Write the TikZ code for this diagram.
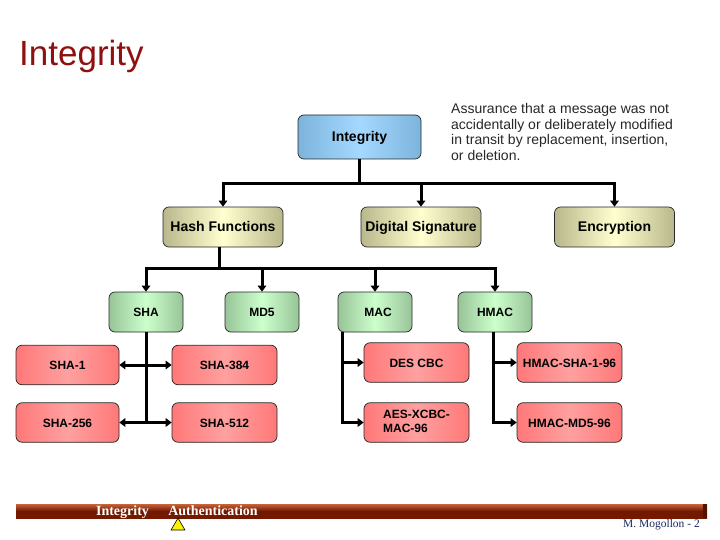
\documentclass[tikz,border=0pt]{standalone}
\usepackage{fontspec}
\setmainfont{Liberation Sans}
\newfontfamily\serifface{Liberation Serif}
\usetikzlibrary{positioning, arrows.meta, shapes.geometric}
\definecolor{titlered}{HTML}{8E1010}
\definecolor{footblue}{HTML}{1A2A5E}
\definecolor{blueedge}{RGB}{125,180,220}
\definecolor{bluemid}{RGB}{165,216,255}
\definecolor{tanedge}{RGB}{184,184,140}
\definecolor{tanmid}{RGB}{255,255,208}
\definecolor{greenedge}{RGB}{152,196,152}
\definecolor{greenmid}{RGB}{204,255,204}
\definecolor{rededge}{RGB}{255,120,120}
\definecolor{redmid}{RGB}{255,160,160}
\definecolor{barlight}{RGB}{200,100,60}
\definecolor{bardark}{RGB}{115,25,0}
\tikzset{
	basebox/.style={draw=black!85, line width=0.7pt, rounded corners=6pt, inner sep=0pt, anchor=center, text=black, execute at begin node={\rule[-3pt]{0pt}{15pt}}},
	bluebox/.style={basebox, left color=blueedge, right color=blueedge, middle color=bluemid, minimum width=123pt, minimum height=44pt, font=\fontsize{14}{16}\selectfont\bfseries},
	tanbox/.style={basebox, left color=tanedge, right color=tanedge, middle color=tanmid, minimum width=120pt, minimum height=40pt, font=\fontsize{14}{16}\selectfont\bfseries},
	greenbox/.style={basebox, left color=greenedge, right color=greenedge, middle color=greenmid, minimum width=74pt, minimum height=40pt, font=\fontsize{12}{14}\selectfont\bfseries},
	redbox/.style={basebox, left color=rededge, right color=rededge, middle color=redmid, minimum width=105pt, minimum height=39.5pt, font=\fontsize{12}{14.5}\selectfont\bfseries},
	wire/.style={line width=3pt, draw=black},
	arrowwire/.style={wire, -{Triangle[length=6pt,width=8.5pt]}},
	bothwire/.style={wire, {Triangle[length=6pt,width=8.5pt]}-{Triangle[length=6pt,width=8.5pt]}},
}
\begin{document}
\begin{tikzpicture}[x=1pt, y=-1pt]
	\useasboundingbox (0,0) rectangle (720,540);
	\node[anchor=west, inner sep=0pt, text=titlered, font=\fontsize{35}{38}\selectfont] (title) at (19,56) {Integrity};
	\node[anchor=north west, inner sep=0pt, align=left, font=\fontsize{14}{15.7}\selectfont, text=black!85] (note) at (451,103)
		{Assurance that a message was not\\accidentally or deliberately modified\\in transit by replacement, insertion,\\or deletion.};
	
	\node[bluebox] (integrity) at (359.5,137) {Integrity};
	\node[tanbox] (hash) at (223,227) {Hash Functions};
	\node[tanbox] (digsig) at (421,227) {Digital Signature};
	\node[tanbox] (encrypt) at (614.5,227) {Encryption};
	
	\node[greenbox] (sha) at (146,312) {SHA};
	\node[greenbox] (md5) at (262,312) {MD5};
	\node[greenbox] (mac) at (375,312) {\hspace*{6pt}MAC};
	\node[greenbox] (hmac) at (495,312) {HMAC};
	
	\node[redbox, minimum width=103pt] (sha1) at (67.5,365) {SHA-1};
	\node[redbox] (sha384) at (224.5,365) {SHA-384};
	\node[redbox, minimum width=103pt] (sha256) at (67.5,422.5) {SHA-256};
	\node[redbox] (sha512) at (224.5,422.5) {SHA-512};
	\node[redbox] (descbc) at (416.5,362.5) {DES CBC};
	\node[redbox] (aes) at (416.5,422.5) {\begin{tabular}{@{}l@{}}AES-XCBC-\\MAC-96\end{tabular}};
	\node[redbox] (hmacsha) at (569.5,362.5) {HMAC-SHA-1-96};
	\node[redbox] (hmacmd) at (569.5,422.5) {HMAC-MD5-96};
	
	% upper bus
	\coordinate (busa) at (integrity.south |- 0,184);
	\draw[wire] (integrity.south) -- (busa);
	\draw[arrowwire] (busa) -| (hash.north);
	\draw[arrowwire] (busa) -| (encrypt.north);
	\draw[arrowwire] (digsig.north |- busa) -- (digsig.north);
	
	% lower bus
	\coordinate (hashstem) at (219,247);
	\coordinate (busb) at (219,268);
	\draw[wire] (hashstem) -- (busb);
	\draw[arrowwire] (busb) -| (sha.north);
	\draw[arrowwire] (busb) -| (hmac.north);
	\draw[arrowwire] (md5.north |- busb) -- (md5.north);
	\draw[arrowwire] (mac.north |- busb) -- (mac.north);
	
	% branches
	\draw[wire] (sha.south) -- (sha.south |- sha256.east);
	\draw[bothwire] (sha1.east) -- (sha384.west);
	\draw[bothwire] (sha256.east) -- (sha512.west);
	\coordinate (macstem) at (342,332);
	\draw[arrowwire] (macstem) |- (aes.west);
	\draw[arrowwire] (macstem |- descbc.west) -- (descbc.west);
	\coordinate (hmacstem) at (493,332);
	\draw[arrowwire] (hmacstem) |- (hmacmd.west);
	\draw[arrowwire] (hmacstem |- hmacsha.west) -- (hmacsha.west);
	
	% footer
	\node[minimum width=691pt, minimum height=14pt, inner sep=0pt, top color=barlight, bottom color=bardark, middle color=bardark] (bar) at (361.5,511) {};
	\fill[bardark!70!black] (bar.north east) rectangle ([xshift=-4pt]bar.south east);
	\node[anchor=base, inner sep=0pt, text=white, font=\serifface\fontsize{14}{16}\selectfont\bfseries] (navint) at (122.5,515) {Integrity};
	\node[anchor=base, inner sep=0pt, text=white, font=\serifface\fontsize{14}{16}\selectfont\bfseries] (navauth) at (213,515) {Authentication};
	\node[draw=black, fill=yellow, regular polygon, regular polygon sides=3, inner sep=0pt, minimum size=16pt, line width=0.6pt] (marker) at (178,526) {};
	\node[text=footblue, anchor=east, inner sep=0pt, font=\serifface\fontsize{11.5}{14}\selectfont] (foot) at (700,524.5) {M. Mogollon - 2};
\end{tikzpicture}
\end{document}
